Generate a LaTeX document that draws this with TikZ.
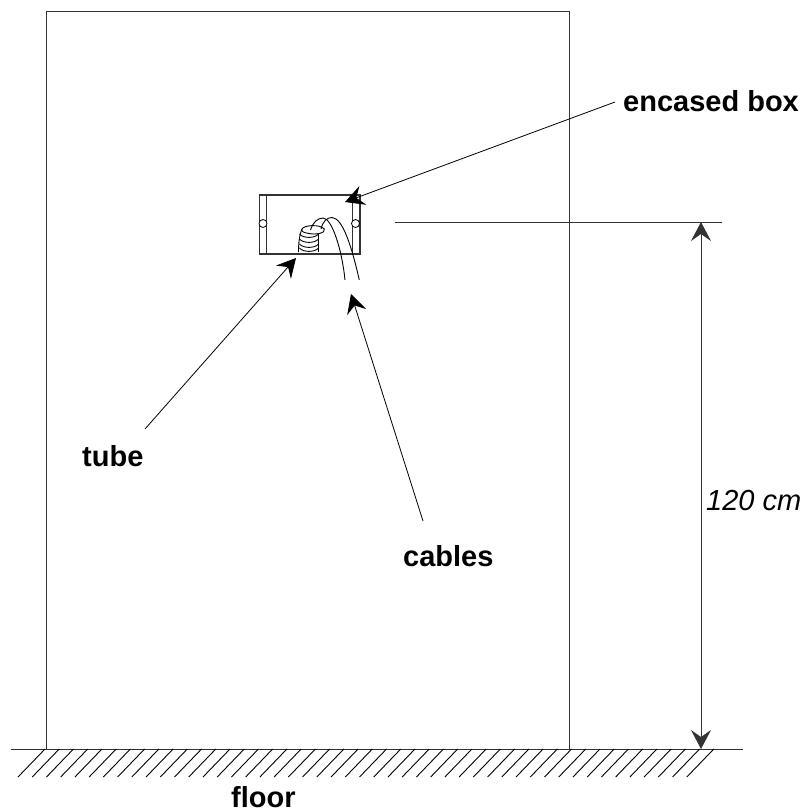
\documentclass[tikz,border=0pt]{standalone}
\usepackage{fontspec}
\setmainfont{Liberation Sans}
\usetikzlibrary{arrows.meta}
\tikzset{
  x=1pt,y=-1pt,
  thinline/.style={line width=1pt,draw=black!80},
  fineline/.style={line width=0.9pt,draw=black},
  bighead/.tip={Stealth[length=19pt,width=20pt,inset=7pt]},
  leader/.style={line width=0.8pt,draw=black,-bighead},
  lab/.style={font=\fontsize{29}{34}\selectfont\bfseries,inner sep=0pt,anchor=base west},
  lug/.style={circle,draw=black,fill=white,line width=0.8pt,minimum size=8pt,inner sep=0pt},
}
\begin{document}
\begin{tikzpicture}
\useasboundingbox (0,0) rectangle (806,812);
% wall
\draw[thinline] (46,749) -- (46,11) -- (569,11) -- (569,749);
% floor
\coordinate (fl) at (11,749);
\coordinate (fr) at (743,749);
\draw[thinline] (fl) -- (fr);
\foreach \k in {0,...,47}{
  \draw[fineline] ({45+\k*14.23},749) -- ({18+\k*14.23},777);
}
% box
\draw[line width=1.5pt,draw=black!80] (259.5,195) rectangle (360,254);
\draw[thinline] (266.7,195) -- (266.7,254);
\draw[thinline] (352.5,195) -- (352.5,254);
\node[lug] (cl) at (263,223.5) {};
\node[lug] (cr) at (355.5,223.5) {};
% tube
\draw[fineline] (298.5,252) .. controls (298.5,245) and (299,236) .. (302,229);
\draw[fineline] (318.5,252) -- (318.5,234);
\draw[fineline] (302,229) .. controls (304,225) and (320,224) .. (324.3,229) .. controls (326,233) and (316,235) .. (309,233.5) .. controls (304,232.5) and (301,232) .. (302,229);
\foreach \yy in {236,241,246,250}{
  \draw[fineline] (299.5,\yy-2) .. controls (303,\yy+2.5) and (315,\yy+2.5) .. (318.5,\yy-2);
}
% cables
\draw[fineline] (310.5,230) .. controls (313,222) and (318,218) .. (323,218) .. controls (332,218) and (342,250) .. (345,280);
\draw[fineline] (321,229) .. controls (323,221) and (327,217.5) .. (332,217.5) .. controls (343,218) and (352,248) .. (359.3,280);
% leaders
\coordinate (tubetail) at (145,429);
\coordinate (tubetip) at (296,258);
\coordinate (cabletail) at (423,521);
\coordinate (cabletip) at (351,294);
\coordinate (boxtail) at (615,102);
\coordinate (boxtip) at (345,202);
\draw[leader] (tubetail) -- (tubetip);
\draw[leader] (cabletail) -- (cabletip);
\draw[leader] (boxtail) -- (boxtip);
% dimension
\coordinate (dl) at (395,222);
\coordinate (dr) at (722,222);
\draw[thinline] (dl) -- (dr);
\coordinate (da) at (701,222);
\coordinate (db) at (701,749);
\draw[thinline,bighead-bighead] (da) -- (db);
% labels
\node[lab] (t1) at (623,111) {encased box};
\node[lab] (t2) at (82,466.5) {tube};
\node[lab] (t3) at (403,566.5) {cables};
\node[lab] (t4) at (231,807) {floor};
\node[lab,font=\fontsize{29}{34}\selectfont\itshape] (t5) at (706,510.5) {120 cm};
\end{tikzpicture}
\end{document}
